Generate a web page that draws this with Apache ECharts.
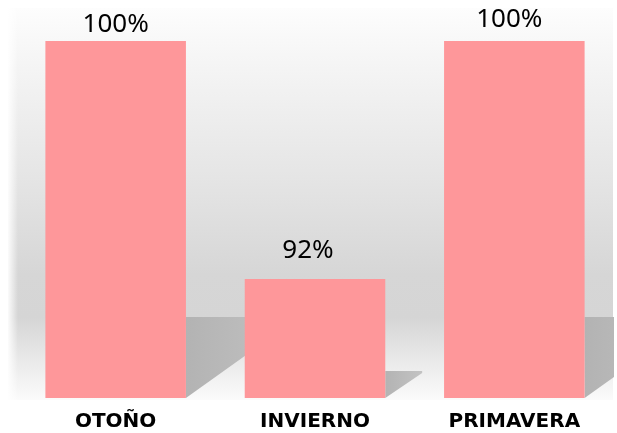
<!DOCTYPE html>
<html>
<head>
<meta charset="utf-8">
<script src="https://cdn.jsdelivr.net/npm/echarts@6/dist/echarts.min.js"></script>
<style>
html,body{margin:0;padding:0;background:#fff;}
#c{width:617px;height:433px;}
</style>
</head>
<body>
<div id="c"></div>
<script>
const categories = ['OTOÑO', 'INVIERNO', 'PRIMAVERA'];
const values = [100, 92, 100];
const valueLabels = ['100%', '92%', '100%'];
const axisMin = 88;
const axisMax = 100;

const labelTweaks = [
  { offset: [0, 0], distance: 3 },
  { offset: [-7, 0], distance: 15 },
  { offset: [-5, -3], distance: 5 }
];

const chart = echarts.init(document.getElementById('c'));
const barWidthRatio = 0.705;

const option = {
  animation: false,
  backgroundColor: '#ffffff',
  graphic: [
    {
      type: 'rect', z: 0, silent: true,
      shape: { x: 8, y: 8, width: 605, height: 392 },
      style: {
        fill: new echarts.graphic.LinearGradient(0, 0, 0, 1, [
          { offset: 0, color: '#fdfdfd' },
          { offset: 0.12, color: '#f6f6f6' },
          { offset: 0.45, color: '#e4e4e4' },
          { offset: 0.68, color: '#d6d6d6' },
          { offset: 0.79, color: '#d5d5d5' },
          { offset: 0.88, color: '#e6e6e6' },
          { offset: 1, color: '#fbfbfb' }
        ])
      }
    },
    {
      type: 'rect', z: 1, silent: true,
      shape: { x: 8, y: 8, width: 10, height: 392 },
      style: {
        fill: new echarts.graphic.LinearGradient(0, 0, 1, 0, [
          { offset: 0, color: 'rgba(255,255,255,0.9)' },
          { offset: 1, color: 'rgba(255,255,255,0)' }
        ])
      }
    }
  ],
  grid: { left: 16, right: 3, top: 41, bottom: 35 },
  xAxis: {
    type: 'category',
    data: categories,
    axisLine: { show: false },
    axisTick: { show: false },
    axisLabel: {
      margin: 14,
      fontFamily: 'DejaVu Sans',
      fontWeight: 'bold',
      fontSize: 20,
      color: '#000000'
    }
  },
  yAxis: {
    type: 'value',
    min: axisMin,
    max: axisMax,
    show: false,
    splitLine: { show: false }
  },
  series: [
    {
      type: 'custom',
      z: 2,
      silent: true,
      clip: true,
      data: values.map((v, i) => [i, v]),
      renderItem: function (params, api) {
        const top = api.coord([api.value(0), api.value(1)]);
        const base = api.coord([api.value(0), axisMin]);
        const band = api.size([1, 0])[0];
        const right = top[0] + band * barWidthRatio / 2;
        const H = base[1] - top[1];
        const sh = H * 0.227;
        const sw = H * 0.31;
        return {
          type: 'polygon',
          shape: { points: [[right, base[1] - sh], [right + sw, base[1] - sh], [right + sw, base[1] - sh + 2], [right, base[1]]] },
          style: {
            fill: new echarts.graphic.LinearGradient(0, 0, 1, 0, [
              { offset: 0, color: '#b3b3b3' },
              { offset: 1, color: '#c3c3c3' }
            ])
          }
        };
      }
    },
    {
      type: 'bar',
      z: 3,
      barWidth: (barWidthRatio * 100) + '%',
      itemStyle: { color: '#fe979a' },
      data: values.map((v, i) => ({
        value: v,
        label: {
          show: true,
          position: 'top',
          distance: labelTweaks[i].distance,
          offset: labelTweaks[i].offset,
          formatter: valueLabels[i],
          fontFamily: 'Noto Sans',
          fontSize: 26,
          color: '#000000'
        }
      }))
    }
  ]
};
chart.setOption(option);
</script>
</body>
</html>
